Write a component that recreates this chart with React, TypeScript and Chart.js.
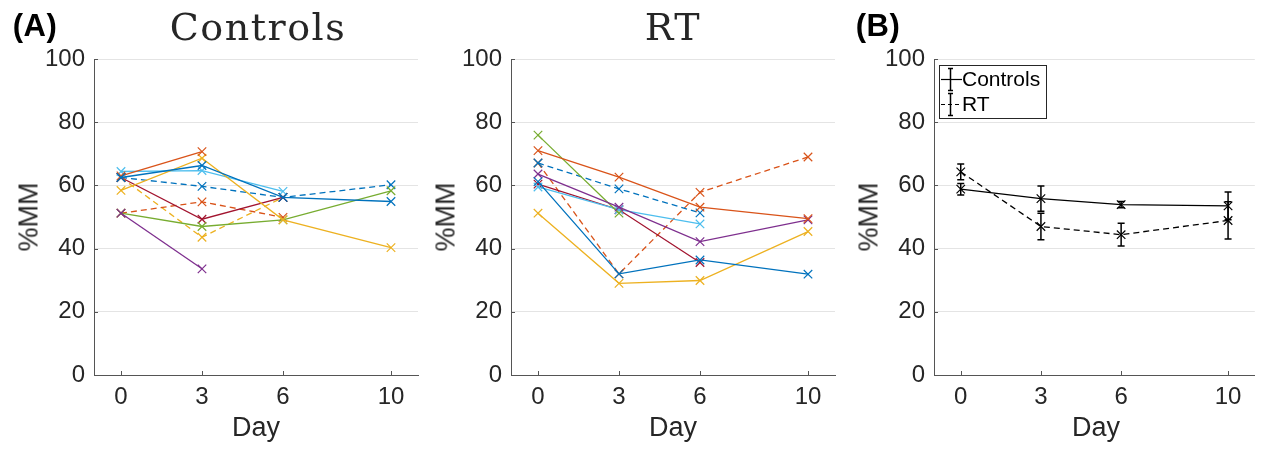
import React, { useEffect, useRef } from "react";
import { Chart, registerables } from "chart.js";

Chart.register(...registerables);

// ---------- data ----------
const days = [0, 3, 6, 10];
const xTickValues = [0, 3, 6, 10];
const yTickValues = [0, 20, 40, 60, 80, 100];

// Controls panel (%MM per subject, null = not measured)
const ctlBlue = [62.5, 66.3, 56.2, 54.9];
const ctlOrange = [63.0, 70.7, null, null];
const ctlYellow = [58.4, 68.6, 49.1, 40.3];
const ctlPurple = [51.2, 33.6, null, null];
const ctlGreen = [51.2, 47.0, 49.1, 58.3];
const ctlLightBlue = [64.4, 64.7, 58.1, null];
const ctlDarkRed = [62.5, 49.3, 56.2, null];
const ctlBlueDash = [62.5, 59.7, 56.2, 60.2];
const ctlOrangeDash = [51.2, 54.8, 49.9, null];
const ctlYellowDash = [62.5, 43.6, 56.2, null];

// RT panel
const rtBlue = [61.2, 32.0, 36.4, 31.9];
const rtOrange = [71.0, 62.6, 53.1, 49.5];
const rtYellow = [51.2, 29.0, 29.9, 45.4];
const rtPurple = [63.6, 53.1, 42.2, 49.1];
const rtGreen = [75.9, 51.2, null, null];
const rtLightBlue = [59.5, 52.3, 47.8, null];
const rtDarkRed = [60.4, 52.3, 35.6, null];
const rtBlueDash = [67.1, 58.9, 51.3, null];
const rtOrangeDash = [67.1, 32.0, 57.8, 69.0];

// Panel B: group means and error
const meanControls = [58.8, 55.8, 53.9, 53.5];
const errControls = [1.8, 4.0, 1.0, 4.4];
const meanRT = [64.3, 47.0, 44.4, 48.9];
const errRT = [2.5, 4.2, 3.6, 5.9];

// ---------- styles ----------
const BLUE = "#0072BD";
const ORANGE = "#D95319";
const YELLOW = "#EDB120";
const PURPLE = "#7E2F8E";
const GREEN = "#77AC30";
const LIGHTBLUE = "#4DBEEE";
const DARKRED = "#A2142F";
const TXT = "#262626";
const AXIS = "#555555";
const GRID = "#e4e4e4";
const SANS = "'Liberation Sans', Arial, Helvetica, sans-serif";
const SERIF = "'DejaVu Serif', 'Liberation Serif', serif";

type S = { values: (number | null)[]; color: string; dashed: boolean };

const controlsSeries: S[] = [
  { values: ctlBlue, color: BLUE, dashed: false },
  { values: ctlOrange, color: ORANGE, dashed: false },
  { values: ctlYellow, color: YELLOW, dashed: false },
  { values: ctlPurple, color: PURPLE, dashed: false },
  { values: ctlGreen, color: GREEN, dashed: false },
  { values: ctlLightBlue, color: LIGHTBLUE, dashed: false },
  { values: ctlDarkRed, color: DARKRED, dashed: false },
  { values: ctlBlueDash, color: BLUE, dashed: true },
  { values: ctlOrangeDash, color: ORANGE, dashed: true },
  { values: ctlYellowDash, color: YELLOW, dashed: true },
];

const rtSeries: S[] = [
  { values: rtBlue, color: BLUE, dashed: false },
  { values: rtOrange, color: ORANGE, dashed: false },
  { values: rtYellow, color: YELLOW, dashed: false },
  { values: rtPurple, color: PURPLE, dashed: false },
  { values: rtGreen, color: GREEN, dashed: false },
  { values: rtLightBlue, color: LIGHTBLUE, dashed: false },
  { values: rtDarkRed, color: DARKRED, dashed: false },
  { values: rtBlueDash, color: BLUE, dashed: true },
  { values: rtOrangeDash, color: ORANGE, dashed: true },
];

const groupSeries = [
  { label: "Controls", mean: meanControls, err: errControls, dashed: false },
  { label: "RT", mean: meanRT, err: errRT, dashed: true },
];

function toPoints(values: (number | null)[]) {
  const pts: { x: number; y: number }[] = [];
  values.forEach((v, i) => {
    if (v !== null && v !== undefined) pts.push({ x: days[i], y: v });
  });
  return pts;
}

function makeDataset(values: (number | null)[], color: string, dashed: boolean, width = 1.3) {
  return {
    data: toPoints(values),
    borderColor: color,
    backgroundColor: color,
    borderWidth: width,
    borderDash: dashed ? [6, 4] : [],
    pointStyle: "crossRot",
    pointRadius: 6,
    pointHoverRadius: 6,
    pointBorderWidth: 1.2,
    pointBorderColor: color,
    pointBackgroundColor: color,
    tension: 0,
    fill: false,
  };
}

const inwardTicks = {
  id: "inwardTicks",
  afterDraw(chart: any) {
    const { ctx, chartArea, scales } = chart;
    ctx.save();
    ctx.strokeStyle = AXIS;
    ctx.lineWidth = 1;
    ctx.beginPath();
    xTickValues.forEach((v) => {
      const px = Math.round(scales.x.getPixelForValue(v)) + 0.5;
      ctx.moveTo(px, chartArea.bottom);
      ctx.lineTo(px, chartArea.bottom - 4);
    });
    yTickValues.forEach((v) => {
      const py = Math.round(scales.y.getPixelForValue(v)) + 0.5;
      ctx.moveTo(chartArea.left, py);
      ctx.lineTo(chartArea.left + 4, py);
    });
    ctx.stroke();
    ctx.restore();
  },
};

const errorBars = {
  id: "errorBars",
  afterDatasetsDraw(chart: any) {
    const { ctx, scales } = chart;
    ctx.save();
    ctx.strokeStyle = "#000";
    ctx.lineWidth = 1.5;
    ctx.setLineDash([]);
    groupSeries.forEach((g) => {
      g.mean.forEach((m, i) => {
        const px = scales.x.getPixelForValue(days[i]);
        const top = scales.y.getPixelForValue(m + g.err[i]);
        const bot = scales.y.getPixelForValue(m - g.err[i]);
        ctx.beginPath();
        ctx.moveTo(px, top);
        ctx.lineTo(px, bot);
        ctx.moveTo(px - 3.5, top);
        ctx.lineTo(px + 3.5, top);
        ctx.moveTo(px - 3.5, bot);
        ctx.lineTo(px + 3.5, bot);
        ctx.stroke();
      });
    });
    ctx.restore();
  },
};

const groupLegend = {
  id: "groupLegend",
  afterDraw(chart: any) {
    const { ctx } = chart;
    const bx = 89.5, by = 65.5, bw = 107, bh = 53;
    ctx.save();
    ctx.fillStyle = "#fff";
    ctx.fillRect(bx, by, bw, bh);
    ctx.strokeStyle = "#262626";
    ctx.lineWidth = 1;
    ctx.setLineDash([]);
    ctx.strokeRect(bx, by, bw, bh);
    const rows = [79.5, 104.5];
    groupSeries.forEach((g, i) => {
      const cy = rows[i];
      ctx.strokeStyle = "#000";
      ctx.lineWidth = 1.2;
      ctx.setLineDash(g.dashed ? [4, 3] : []);
      ctx.beginPath();
      ctx.moveTo(91, cy);
      ctx.lineTo(112, cy);
      ctx.stroke();
      ctx.setLineDash([]);
      ctx.lineWidth = 1.5;
      ctx.beginPath();
      ctx.moveTo(100.5, cy - 11);
      ctx.lineTo(100.5, cy + 11);
      ctx.moveTo(98, cy - 11);
      ctx.lineTo(103, cy - 11);
      ctx.moveTo(98, cy + 11);
      ctx.lineTo(103, cy + 11);
      ctx.stroke();
      ctx.fillStyle = "#000";
      ctx.font = `21px ${SANS}`;
      ctx.textBaseline = "middle";
      ctx.textAlign = "left";
      ctx.fillText(g.label, 112, cy + 1);
    });
    ctx.restore();
  },
};

function buildOptions(yWidth: number, padRight: number) {
  return {
    responsive: false,
    maintainAspectRatio: false,
    animation: false,
    devicePixelRatio: 1,
    events: [],
    layout: { padding: { left: 0, right: padRight, top: 59, bottom: 0 } },
    plugins: {
      legend: { display: false },
      tooltip: { enabled: false },
      title: { display: false },
    },
    scales: {
      x: {
        type: "linear",
        min: -1,
        max: 11,
        afterBuildTicks: (s: any) => {
          s.ticks = xTickValues.map((v) => ({ value: v }));
        },
        afterFit: (s: any) => {
          s.height = 74;
        },
        grid: { display: true, color: "rgba(0,0,0,0)", drawTicks: false },
        border: { display: true, color: AXIS, width: 1 },
        ticks: {
          padding: 8,
          color: TXT,
          autoSkip: false,
          maxRotation: 0,
          font: { family: SANS, size: 24 },
        },
      },
      y: {
        type: "linear",
        min: 0,
        max: 100,
        afterBuildTicks: (s: any) => {
          s.ticks = yTickValues.map((v) => ({ value: v }));
        },
        afterFit: (s: any) => {
          s.width = yWidth;
        },
        grid: { display: true, color: GRID, lineWidth: 1, drawTicks: false },
        border: { display: true, color: AXIS, width: 1 },
        ticks: {
          padding: 9,
          color: TXT,
          font: { family: SANS, size: 24 },
        },
      },
    },
  };
}

function Panel(props: {
  left: number;
  width: number;
  yWidth: number;
  padRight: number;
  datasets: any[];
  plugins: any[];
}) {
  const ref = useRef<HTMLCanvasElement | null>(null);
  useEffect(() => {
    if (!ref.current) return;
    const chart = new Chart(ref.current, {
      type: "line",
      data: { datasets: props.datasets },
      options: buildOptions(props.yWidth, props.padRight) as any,
      plugins: props.plugins,
    } as any);
    return () => chart.destroy();
  }, []);
  return (
    <canvas
      ref={ref}
      width={props.width}
      height={449}
      style={{
        position: "absolute",
        left: props.left,
        top: 0,
        width: props.width,
        height: 449,
      }}
    />
  );
}

function Label(props: {
  x: number;
  y: number;
  text: string;
  size: number;
  family: string;
  bold?: boolean;
  rotate?: boolean;
  spacing?: number;
}) {
  return (
    <div
      style={{
        position: "absolute",
        left: props.x,
        top: props.y,
        transform: `translate(-50%, -50%)${props.rotate ? " rotate(-90deg)" : ""}`,
        fontFamily: props.family,
        fontSize: props.size,
        fontWeight: props.bold ? 700 : 400,
        lineHeight: 1,
        whiteSpace: "nowrap",
        color: props.bold ? "#000" : TXT,
        letterSpacing: props.spacing ?? 0,
      }}
    >
      {props.text}
    </div>
  );
}

export default function App() {
  const ctlDatasets = controlsSeries.map((s) => makeDataset(s.values, s.color, s.dashed));
  const rtDatasets = rtSeries.map((s) => makeDataset(s.values, s.color, s.dashed));
  const grpDatasets = groupSeries.map((g) => makeDataset(g.mean, "#000", g.dashed, 1.3));

  return (
    <div
      style={{
        position: "absolute",
        left: 0,
        top: 0,
        width: 1262,
        height: 449,
        background: "#fff",
        overflow: "hidden",
      }}
    >
      <Panel left={0} width={430} yWidth={94} padRight={12} datasets={ctlDatasets} plugins={[inwardTicks]} />
      <Panel left={430} width={420} yWidth={81} padRight={15} datasets={rtDatasets} plugins={[inwardTicks]} />
      <Panel
        left={850}
        width={412}
        yWidth={84}
        padRight={4}
        datasets={grpDatasets}
        plugins={[errorBars, inwardTicks, groupLegend]}
      />

      <Label x={35} y={25} text="(A)" size={31} family={SANS} bold spacing={0.5} />
      <Label x={878} y={25} text="(B)" size={31} family={SANS} bold spacing={0.5} />

      <Label x={258} y={27} text="Controls" size={38} family={SERIF} spacing={1.5} />
      <Label x={673} y={27} text="RT" size={38} family={SERIF} spacing={1.5} />

      <Label x={29} y={217} text="%MM" size={27} family={SANS} rotate />
      <Label x={446} y={217} text="%MM" size={27} family={SANS} rotate />
      <Label x={869} y={217} text="%MM" size={27} family={SANS} rotate />

      <Label x={256} y={427} text="Day" size={27} family={SANS} />
      <Label x={673} y={427} text="Day" size={27} family={SANS} />
      <Label x={1096} y={427} text="Day" size={27} family={SANS} />
    </div>
  );
}
